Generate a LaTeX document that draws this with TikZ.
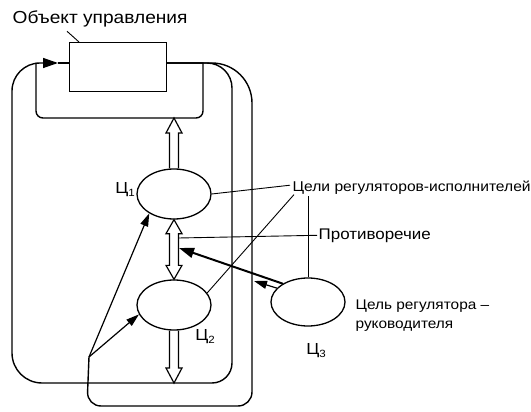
\documentclass[tikz,border=0pt]{standalone}
\usepackage{fontspec}
\setmainfont[FakeStretch=1.1]{Liberation Sans}
\usetikzlibrary{arrows.meta,calc,shapes.geometric}

% hollow block arrows (vertical): shaft half-width 4.5pt, head half-width 8pt, head length 15pt
\newcommand\fatup[2]{% shaft from #1 up to the tip #2
  \draw[fat] let \p1=(#1), \p2=(#2) in
    (\x2-4.5pt,\y1) -- (\x2-4.5pt,\y2-15pt) -- (\x2-8pt,\y2-15pt) -- (\x2,\y2)
    -- (\x2+8pt,\y2-15pt) -- (\x2+4.5pt,\y2-15pt) -- (\x2+4.5pt,\y1);}
\newcommand\fatdown[2]{% shaft from #1 down to the tip #2
  \draw[fat] let \p1=(#1), \p2=(#2) in
    (\x2-4.5pt,\y1) -- (\x2-4.5pt,\y2+15pt) -- (\x2-8pt,\y2+15pt) -- (\x2,\y2)
    -- (\x2+8pt,\y2+15pt) -- (\x2+4.5pt,\y2+15pt) -- (\x2+4.5pt,\y1);}
\newcommand\fatboth[2]{% tips at #1 (top) and #2 (bottom)
  \draw[fat] let \p1=(#1), \p2=(#2) in
    (\x1,\y1) -- (\x1+8pt,\y1-14pt) -- (\x1+4.5pt,\y1-14pt) -- (\x1+4.5pt,\y2+14pt)
    -- (\x1+8pt,\y2+14pt) -- (\x1,\y2) -- (\x1-8pt,\y2+14pt) -- (\x1-4.5pt,\y2+14pt)
    -- (\x1-4.5pt,\y1-14pt) -- (\x1-8pt,\y1-14pt) -- cycle;}
\newcommand\goalname[1]{Ц\raisebox{-3pt}{\fontsize{10.5}{10.5}\selectfont #1}}

\begin{document}
\begin{tikzpicture}[x=1pt,y=-1pt,line width=1.3pt,
  goal/.style={draw, ellipse, minimum width=74pt, minimum height=50pt, inner sep=0pt, line width=1.3pt},
  lbl/.style={inner sep=0pt, font=\fontsize{14.2}{19}\selectfont},
  biglbl/.style={inner sep=0pt, font=\fontsize{17.4}{19}\selectfont},
  cname/.style={inner sep=0pt, font=\fontsize{16}{16}\selectfont},
  leader/.style={line width=0.9pt},
  fat/.style={line width=1.2pt},
  looppath/.style={line width=1.4pt},
  tip/.style={-{Triangle[length=13pt,width=8pt]}},
  bigtip/.style={-{Triangle[length=15pt,width=10pt]}},
]
\useasboundingbox (0,0) rectangle (531,412);

% controlled object
\node[draw, line width=1.3pt, minimum width=97pt, minimum height=49pt, inner sep=0pt, anchor=north west] (box) at (69,42) {};
\node[biglbl, anchor=base west] (objLbl) at (12,24) {Объект управления};

% goals
\node[goal] (c1) at (174,194) {};
\node[goal] (c2) at (174,305) {};
\node[goal, minimum height=48pt] (c3) at (308,302) {};
\node[cname] (n1) at (125,190) {\goalname{1}};
\node[cname] (n2) at (205,337) {\goalname{2}};
\node[cname] (n3) at (316,351) {\goalname{3}};

% captions
\node[lbl, anchor=base west] (goals) at (292,192) {Цели регуляторов-исполнителей};
\node[lbl, anchor=base west, font=\fontsize{15.4}{19}\selectfont] (contra) at (318,239) {Противоречие};
\node[lbl, anchor=north west, align=left, font=\fontsize{14}{19}\selectfont] (headLbl) at (355,299) {Цель регулятора –\\руководителя};

% anchor points of the feedback loops
\coordinate (outR) at (166,63);
\coordinate (inL) at (69,63);
\coordinate (arrTip) at (58,63);
\coordinate (cBot) at (174,118);
\coordinate (aBot) at (174,383);
\coordinate (P) at (89,357);
\coordinate (dMidR) at (178.5,238);
\coordinate (dArrR) at (179,248);
\coordinate (bLine) at (254,281);

% inner loop
\draw[looppath] (outR) -- (203,63) [rounded corners=7pt] -- (203,118) -- (36,118) [sharp corners] -- (36,63);
% outer loop back to the object input
\draw[looppath, bigtip] (outR) [rounded corners=25pt] -- (232,63) [rounded corners=20pt] -- (232,383)
  [rounded corners=30pt] -- (12,383) [rounded corners=28pt] -- (12,63) [sharp corners] -- (arrTip);
\draw[looppath] (arrTip) -- (inL);
% loop of the second regulator
\draw[looppath] (outR) [rounded corners=40pt] -- (252,63) [rounded corners=14pt] -- (252,406)
  -- (87,406) [sharp corners] -- (P);

% hollow block arrows
\fatup{c1.north}{cBot}
\fatboth{c1.south}{c2.north}
\fatdown{c2.south}{aBot}

% influences
\draw[tip, line width=1.2pt] (P) -- (c1.218);
\draw[tip, line width=1.2pt] (P) -- (c2.195);
\draw[bigtip, line width=2pt] (c3.144) -- (dArrR);
\draw[tip, line width=1.2pt] (c3.156) -- (bLine);

% leader lines
\draw[leader] ($(objLbl.south west)+(55,3)$) -- ($(box.north west)+(10,0)$);
\draw[leader] (c1.east) -- ($(goals.west)+(-2,-3)$);
\draw[leader] (c2.20) -- ($(goals.south west)+(2,-1)$);
\draw[leader] (c3.north) -- (c3.north |- goals.south);
\draw[leader] ($(contra.west)+(-1,0)$) -- (dMidR);
\end{tikzpicture}
\end{document}
